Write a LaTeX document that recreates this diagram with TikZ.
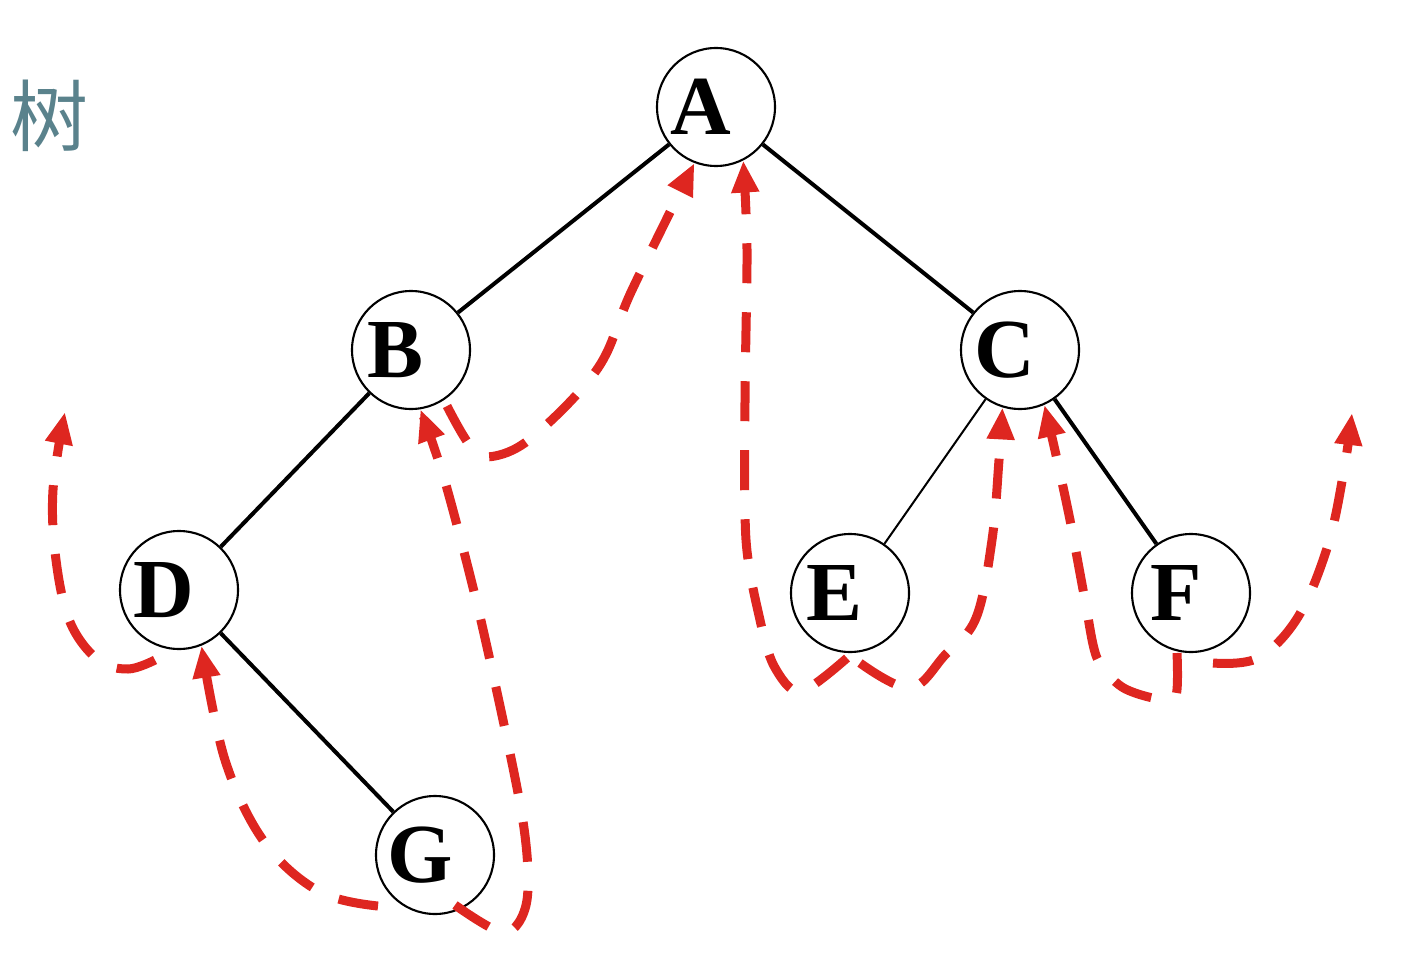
\documentclass[tikz,border=0pt]{standalone}
\usepackage{fontspec}
\setmainfont{Liberation Serif}
\newfontfamily\cjk{Noto Sans CJK SC}
\usetikzlibrary{arrows.meta}
\definecolor{threadred}{RGB}{222,38,32}
\definecolor{titlecol}{RGB}{90,130,140}
\tikzset{
  tnode/.style={circle,draw=black,line width=2.1pt,minimum size=118pt,inner sep=0pt,fill=white},
  tlabel/.style={font=\fontsize{84}{84}\selectfont\bfseries,xshift=-15pt},
  edge/.style={line width=4pt,black},
  thinedge/.style={line width=2pt,black},
  thread/.style={threadred,line width=9pt,dash pattern=on 40pt off 29pt,
     -{Triangle[length=32pt,width=26pt]}}
}
\begin{document}
\begin{tikzpicture}[x=1pt,y=-1pt]
\useasboundingbox (0,0) rectangle (1426,960);
% title
\node[text=titlecol,font=\cjk\fontsize{78}{78}\selectfont] (title) at (49,116) {树};
% nodes
\node[tnode] (A) at (716,107) {};
\node[tnode] (B) at (411,350) {};
\node[tnode] (C) at (1020,350) {};
\node[tnode] (D) at (179,590) {};
\node[tnode] (E) at (850,593) {};
\node[tnode] (F) at (1191,593) {};
\node[tnode] (G) at (435,855) {};
% edges
\draw[edge] (A) -- (B);
\draw[edge] (A) -- (C);
\draw[edge] (B) -- (D);
\draw[edge] (D) -- (G);
\draw[edge] (C) -- (F);
\draw[thinedge] (C) -- (E);
% labels
\foreach \n/\t in {A/A,B/B,C/C,D/D,E/E,F/F,G/G}
  \node[tlabel] (l\n) at (\n) {\t};
% threads
\coordinate (s1) at (155,660);
\coordinate (e1) at (65,412);
\draw[thread] plot[smooth,tension=0.6] coordinates {(s1) (128,669) (98,660) (70,622) (56,560) (53,490) (e1)};
\coordinate (s2) at (378,906);
\draw[thread] plot[smooth,tension=0.6] coordinates {(s2) (320,892) (265,843) (225,760) (D.-68)};
\coordinate (s3) at (455,905);
\draw[thread] plot[smooth,tension=0.5] coordinates {(s3) (505,933) (527,900) (522,815) (482,625) (446,485) (B.-81)};
\coordinate (s4) at (447,406);
\draw[thread] plot[smooth,tension=0.6] coordinates {(s4) (472,448) (495,456) (535,435) (598,368) (632,290) (A.-111)};
\coordinate (s5) at (847,658);
\draw[thread] plot[smooth,tension=0.5] coordinates {(s5) (800,692) (774,666) (760,620) (746,540) (745,400) (747,250) (A.-63)};
\coordinate (s6) at (860,663);
\draw[thread] plot[smooth,tension=0.6] coordinates {(s6) (910,688) (945,655) (976,618) (992,540) (999,460) (C.-107)};
\coordinate (s7) at (1177,653);
\draw[thread] plot[smooth,tension=0.5] coordinates {(s7) (1176,695) (1158,699) (1122,687) (1097,658) (1085,600) (1070,520) (1056,455) (C.-66)};
\coordinate (s8) at (1213,663);
\coordinate (e8) at (1352,413);
\draw[thread] plot[smooth,tension=0.6] coordinates {(s8) (1258,658) (1298,617) (1328,545) (1344,470) (e8)};
\end{tikzpicture}
\end{document}
